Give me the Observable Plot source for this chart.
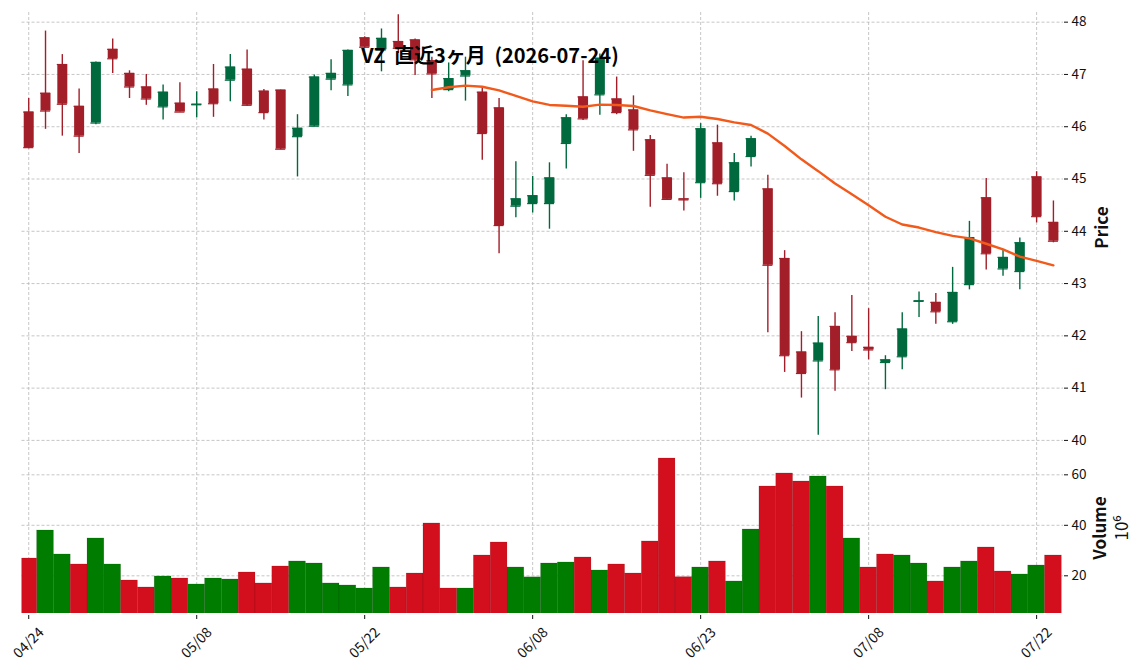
<!DOCTYPE html>
<html><head><meta charset="utf-8">
<script src="https://cdn.jsdelivr.net/npm/d3@7"></script>
<script src="https://cdn.jsdelivr.net/npm/@observablehq/plot@0.6"></script>
<style>
html,body{margin:0;padding:0;background:#fff;}
#wrap{position:relative;width:1144px;height:670px;font-family:"Noto Sans CJK JP","Noto Sans",sans-serif;}
#wrap svg{display:block;}
#title{position:absolute;left:490px;top:45px;transform:translateX(-50%);font-size:20px;line-height:20px;font-weight:bold;white-space:nowrap;word-spacing:4px;z-index:2;color:#000;}
</style></head><body>
<div id="wrap"><div id="title"></div></div>
<script>
const dates = ["04/24","04/27","04/28","04/29","04/30","05/01","05/04","05/05","05/06","05/07",
"05/08","05/11","05/12","05/13","05/14","05/15","05/18","05/19","05/20","05/21",
"05/22","05/26","05/27","05/28","05/29","06/01","06/02","06/03","06/04","06/05",
"06/08","06/09","06/10","06/11","06/12","06/15","06/16","06/17","06/18","06/22",
"06/23","06/24","06/25","06/26","06/29","06/30","07/01","07/02","07/06","07/07",
"07/08","07/09","07/10","07/13","07/14","07/15","07/16","07/17","07/20","07/21",
"07/22","07/23"];
const opens = [46.28,46.64,47.19,46.39,46.07,47.48,47.02,46.76,46.38,46.45,
46.42,46.72,46.89,47.10,46.68,46.70,45.81,46.01,46.91,46.80,
47.70,47.47,47.63,47.66,47.26,46.71,46.97,46.66,46.36,44.48,
44.53,44.53,45.68,46.57,46.61,46.53,46.32,45.75,45.02,44.62,
44.93,45.69,44.76,45.43,44.81,43.48,41.69,41.52,42.18,41.99,
41.78,41.49,41.60,42.66,42.64,42.27,42.98,44.64,43.28,43.23,
45.04,44.17];
const highs = [46.54,47.83,47.38,46.72,47.24,47.68,47.07,47.00,46.80,46.84,
46.67,47.19,47.38,47.47,46.71,46.70,46.23,46.99,47.28,47.47,
47.72,47.87,48.14,47.68,47.33,47.22,47.33,46.75,46.54,45.33,
45.05,45.31,46.23,47.26,47.39,46.95,46.59,45.83,45.28,45.12,
46.06,46.03,45.49,45.82,45.07,43.63,42.08,42.37,42.44,42.77,
42.52,41.62,42.44,42.84,42.81,43.31,44.19,45.01,43.64,43.87,
45.14,44.58];
const lows = [45.58,45.95,45.82,45.49,46.04,47.02,46.54,46.41,46.13,46.28,
46.17,46.18,46.48,46.39,46.13,45.56,45.04,46.00,46.69,46.58,
47.50,47.05,47.40,46.98,46.54,46.67,46.49,45.36,43.57,44.26,
44.35,44.04,45.19,46.12,46.22,46.23,45.53,44.46,44.59,44.39,
44.63,44.67,44.58,45.23,42.06,41.30,40.81,40.10,40.94,41.70,
41.54,40.97,41.35,42.35,42.22,42.22,42.88,43.26,43.14,42.88,
44.16,43.78];
const closes = [45.60,46.30,46.43,45.82,47.23,47.30,46.76,46.53,46.66,46.28,
46.43,46.44,47.14,46.41,46.27,45.57,45.97,46.95,47.02,47.46,
47.52,47.69,47.50,47.28,47.01,46.92,47.07,45.87,44.11,44.62,
44.68,45.02,46.17,46.15,47.31,46.27,45.94,45.07,44.61,44.60,
45.96,44.91,45.31,45.77,43.35,41.62,41.28,41.86,41.35,41.87,
41.73,41.54,42.13,42.67,42.46,42.83,43.88,43.57,43.50,43.78,
44.28,43.81];
// volume in millions of shares
const volumes = [26.86,37.95,28.45,24.49,34.79,24.49,18.15,15.38,19.74,18.94,
16.57,18.94,18.55,21.32,16.97,23.70,25.68,24.88,16.97,16.17,
14.98,23.30,15.38,20.92,40.73,14.98,14.98,28.05,33.20,23.30,
19.40,24.88,25.28,27.26,22.11,24.49,20.92,33.60,66.47,19.47,
23.30,25.68,17.76,38.35,55.38,60.53,57.36,59.34,55.38,34.79,
23.30,28.45,28.05,24.88,17.76,23.30,25.68,31.22,21.72,20.53,
24.09,28.05];
const priceTicks = [40,41,42,43,44,45,46,47,48];
const volumeTicks = [20,40,60];
const maWindow = 25;
const titleText = "VZ 直近3ヶ月 (2026-07-24)";

const N = dates.length;
const data = dates.map((d, i) => ({i, date: d, open: opens[i], high: highs[i], low: lows[i], close: closes[i], volume: volumes[i]}));
data.forEach((d, i) => {
  d.up = d.close >= d.open;
  d.vup = i === 0 ? d.up : d.close >= data[i - 1].close;
});
const ma = [];
for (let i = maWindow - 1; i < N; i++) ma.push({i, v: d3.mean(closes.slice(i - maWindow + 1, i + 1))});
const tickIdx = d3.range(0, N, 10);

const UP = "#006a3e", DN = "#a21f29", VUP = "#007d00", VDN = "#d30f1d", MA = "#f25a1c";
const FONT = '"Noto Sans CJK JP","Noto Sans",sans-serif';
const W = 1144, ML = 21.5, MR = 81;
const xDomain = [-0.4, 61.6];
const grid = {stroke: "#b8b8b8", strokeOpacity: 1, strokeDasharray: "3,2", strokeWidth: 0.8};
const style = {fontFamily: FONT, fontSize: "13px", color: "#111", background: "transparent", overflow: "visible"};

const upD = data.filter(d => d.up), dnD = data.filter(d => !d.up);
function candle(arr, color) {
  return [
    Plot.ruleX(arr, {x: "i", y1: "low", y2: "high", stroke: color, strokeWidth: 1.4}),
    Plot.ruleX(arr, {x: "i", y1: "open", y2: "close", stroke: color, strokeWidth: 10}),
    Plot.ruleY(arr, {x1: d => d.i - 0.3, x2: d => d.i + 0.3, y: "open", stroke: color, strokeWidth: 1.2}),
    Plot.ruleY(arr, {x1: d => d.i - 0.3, x2: d => d.i + 0.3, y: "close", stroke: color, strokeWidth: 1.2})
  ];
}

const price = Plot.plot({
  width: W, height: 442, marginLeft: ML, marginRight: MR, marginTop: 12, marginBottom: 0,
  style,
  x: {domain: xDomain, axis: null},
  y: {domain: [39.96, 48.185], axis: null},
  marks: [
    Plot.gridX({ticks: tickIdx, ...grid}),
    Plot.gridY({ticks: priceTicks, ...grid}),
    ...candle(upD, UP),
    ...candle(dnD, DN),
    Plot.line(ma, {x: "i", y: "v", stroke: MA, strokeWidth: 2.4}),
    Plot.axisY({anchor: "right", ticks: priceTicks, tickSize: 4, tickPadding: 4, label: null, fontSize: 13.5}),
    Plot.text(["Price"], {frameAnchor: "right", dx: 39, rotate: -90, textAnchor: "middle", lineAnchor: "middle", fontSize: 17, fontWeight: "bold"})
  ]
});

const vol = Plot.plot({
  width: W, height: 228, marginLeft: ML, marginRight: MR, marginTop: 0, marginBottom: 57,
  style,
  x: {domain: xDomain, axis: null},
  y: {domain: [5.07, 72.8], axis: null},
  marks: [
    Plot.gridX({ticks: tickIdx, ...grid}),
    Plot.gridY({ticks: volumeTicks, ...grid}),
    Plot.rectY(data.filter(d => d.vup), {x1: d => d.i - 0.5, x2: d => d.i + 0.5, y1: 0, y2: "volume", fill: VUP, stroke: "#000", strokeOpacity: 0.18, strokeWidth: 0.6, clip: true}),
    Plot.rectY(data.filter(d => !d.vup), {x1: d => d.i - 0.5, x2: d => d.i + 0.5, y1: 0, y2: "volume", fill: VDN, stroke: "#000", strokeOpacity: 0.18, strokeWidth: 0.6, clip: true}),
    Plot.axisY({anchor: "right", ticks: volumeTicks, tickSize: 4, tickPadding: 4, label: null, fontSize: 13.5}),
    Plot.axisX({ticks: tickIdx, tickSize: 4, tickFormat: () => "", label: null, dy: 2}),
    Plot.text(tickIdx, {x: d => d, text: d => dates[d], frameAnchor: "bottom", dy: 29.5, rotate: -45, textAnchor: "middle", lineAnchor: "middle", fontSize: 14, fill: "#111"}),
    Plot.text(["Volume"], {frameAnchor: "right", dx: 37, rotate: -90, textAnchor: "middle", lineAnchor: "middle", fontSize: 17, fontWeight: "bold"}),
    Plot.text(["10⁶"], {frameAnchor: "right", dx: 59, rotate: -90, textAnchor: "middle", lineAnchor: "middle", fontSize: 17})
  ]
});

const wrap = document.getElementById("wrap");
document.getElementById("title").textContent = titleText;
wrap.appendChild(price);
wrap.appendChild(vol);
</script>
</body></html>
